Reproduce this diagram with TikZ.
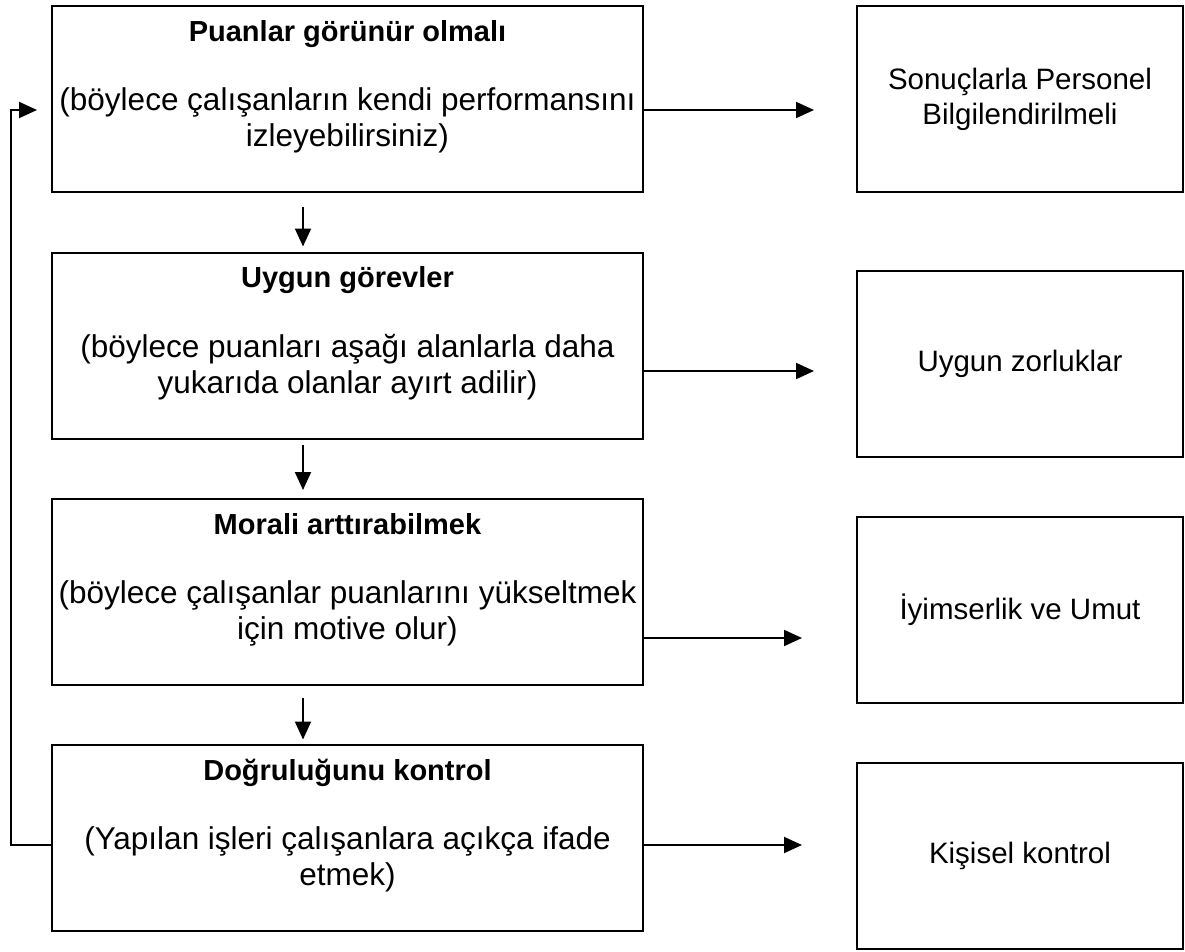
\documentclass[tikz,border=0pt]{standalone}
\usepackage{fontspec}
\setmainfont{Liberation Sans}
\usetikzlibrary{arrows.meta,calc}
\newcommand{\steptitle}[1]{{\fontsize{29}{34}\selectfont\bfseries #1}}
\begin{document}
\begin{tikzpicture}[x=1pt,y=-1pt,
  every node/.style={font=\fontsize{31.5}{36.3}\selectfont},
  lbox/.style={draw, line width=2pt, minimum width=591pt, minimum height=186pt, inner sep=0pt},
  rbox/.style={draw, line width=2pt, minimum width=326pt, minimum height=186pt, align=center, inner sep=0pt,
    font=\fontsize{29.5}{35}\selectfont},
  ltext/.style={align=center, inner sep=0pt, anchor=north},
  arr/.style={line width=2pt, -{Triangle[length=18pt,width=16pt]}}]
\useasboundingbox (0,0) rectangle (1185,952);

% left column: the four steps
\node[lbox] (b1) at (347.5,99) {};
\node[ltext] (b1t) at ([yshift=-15pt]b1.north) {\steptitle{Puanlar görünür olmalı}\\[33pt](böylece çalışanların kendi performansını\\izleyebilirsiniz)};
\node[lbox] (b2) at (347.5,345.5) {};
\node[ltext] (b2t) at ([yshift=-15pt]b2.north) {\steptitle{Uygun görevler}\\[33pt](böylece puanları aşağı alanlarla daha\\yukarıda olanlar ayırt adilir)};
\node[lbox] (b3) at (347.5,592) {};
\node[ltext] (b3t) at ([yshift=-15pt]b3.north) {\steptitle{Morali arttırabilmek}\\[33pt](böylece çalışanlar puanlarını yükseltmek\\için motive olur)};
\node[lbox] (b4) at (347.5,837.5) {};
\node[ltext] (b4t) at ([yshift=-15pt]b4.north) {\steptitle{Doğruluğunu kontrol}\\[33pt](Yapılan işleri çalışanlara açıkça ifade\\etmek)};

% right column: the outcomes
\node[rbox] (r1) at (1020,99.5) {Sonuçlarla Personel\\Bilgilendirilmeli};
\node[rbox] (r2) at (1020,364) {Uygun zorluklar};
\node[rbox] (r3) at (1020,610) {İyimserlik ve Umut};
\node[rbox] (r4) at (1020,856) {Kişisel kontrol};

% downward arrows between the steps
\draw[arr] ($(b1.south)+(-44.5,14)$) -- ($(b2.north)+(-44.5,-5)$);
\draw[arr] ($(b2.south)+(-44.5,5)$) -- ($(b3.north)+(-44.5,-8)$);
\draw[arr] ($(b3.south)+(-44.5,12)$) -- ($(b4.north)+(-44.5,-4)$);

% arrows towards the outcomes
\draw[arr] ($(b1.east)+(0,11)$) -- ($(r1.west |- b1.east)+(-42,11)$);
\draw[arr] ($(b2.east)+(0,25.5)$) -- ($(r2.west |- b2.east)+(-42,25.5)$);
\draw[arr] ($(b3.east)+(0,46)$) -- ($(r3.west |- b3.east)+(-54,46)$);
\draw[arr] ($(b4.east)+(0,7.5)$) -- ($(r4.west |- b4.east)+(-54,7.5)$);

% feedback loop from the last step back to the first
\draw[arr] ($(b4.west)+(0,7.5)$) -- ++(-40,0) |- ($(b1.west)+(-14,11)$);
\end{tikzpicture}
\end{document}
